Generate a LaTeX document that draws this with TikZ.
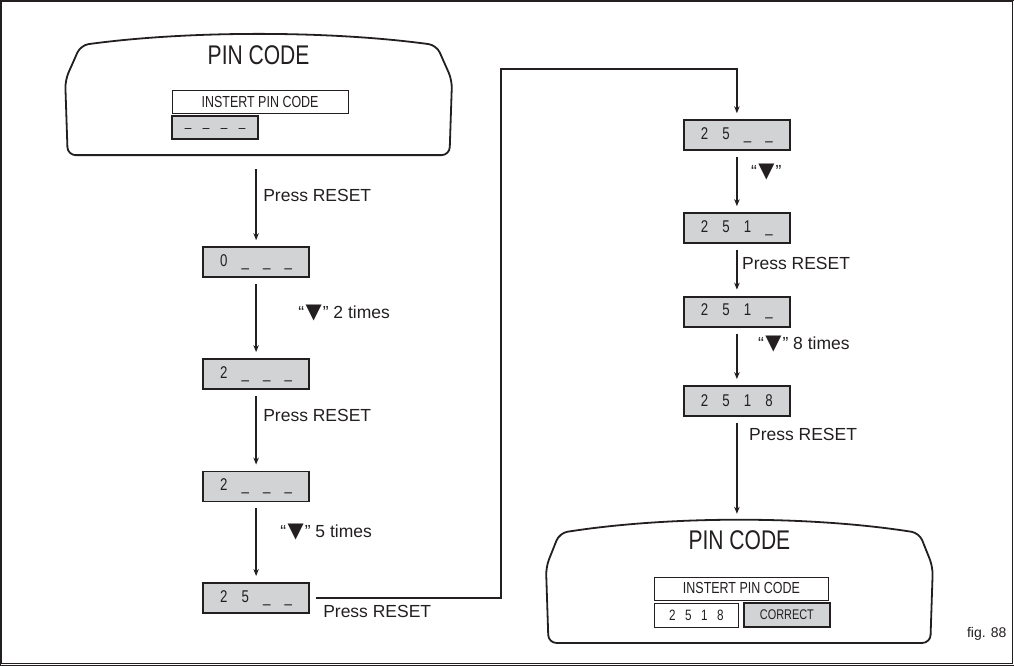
\documentclass[tikz,border=0pt]{standalone}
\usepackage{fontspec}
\setmainfont{Liberation Sans}
\newfontfamily\condf[FakeStretch=0.78]{Liberation Sans}
\newfontfamily\symf{DejaVu Sans}
\usetikzlibrary{arrows.meta}
\definecolor{boxgray}{RGB}{209,211,212}
\definecolor{ink}{RGB}{35,31,32}
\newcommand\chs[5]{\makebox[#1]{#2}\makebox[#1]{#3}\makebox[#1]{#4}\makebox[#1]{#5}}
\newcommand\tri{\kern1.5pt{\symf\fontsize{21}{22}\selectfont ▼}\kern1pt}
\begin{document}
\begin{tikzpicture}[x=1pt,y=-1pt,
  every path/.style={draw=ink},
  framebox/.style={line width=1.4pt},
  panelline/.style={line width=1.8pt, rounded corners=8pt},
  stepbox/.style={draw=ink, line width=1.9pt, fill=boxgray, minimum width=106pt, minimum height=30pt, inner sep=0pt,
     font=\condf\fontsize{17}{19}\selectfont, text=ink},
  insbox/.style={draw=ink, line width=0.9pt, fill=white, inner sep=0pt, text=ink},
  grayin/.style={draw=ink, line width=1.9pt, fill=boxgray, inner sep=0pt, text=ink},
  conn/.style={line width=1.5pt, -{Stealth[length=7pt,width=5.5pt]}, shorten >=6pt, shorten <=6pt},
  lab/.style={anchor=west, inner sep=0pt, text=ink, font=\fontsize{17.5}{20}\selectfont},
  ghost/.style={draw=none, inner sep=0pt}
]
\useasboundingbox (0,0) rectangle (1014,665);
\draw[framebox] (1,1.5) rectangle (1012.5,663.5);

% ---------- top panel ----------
\begin{scope}[shift={(258.5,34)}]
  \draw[panelline] (0,121) -- (-191,121) -- (-193.5,46) -- (-178,11)
     .. controls (-70,-3.7) and (70,-3.7) .. (178,11) -- (193.5,46) -- (191,121) -- cycle;
  \node[ghost, text=ink, font=\condf\fontsize{27}{30}\selectfont] (t1title) at (0,21) {PIN CODE};
  \node[insbox, minimum width=176pt, minimum height=23pt, font=\condf\fontsize{16}{18}\selectfont] (t1ins) at (1.5,67.5) {INSTERT PIN CODE};
  \node[grayin, minimum width=86pt, minimum height=23pt, font=\condf\fontsize{15}{17}\selectfont] (t1code) at (-43.5,93.5) {\chs{18pt}{\_}{\_}{\_}{\_}};
\end{scope}
\node[ghost, minimum width=387pt, minimum height=121pt] (P1) at (258.5,94.5) {};

% ---------- left column ----------
\node[stepbox] (B1) at (256,262) {\chs{21.5pt}{0}{\_}{\_}{\_}};
\node[stepbox] (B2) at (256,374) {\chs{21.5pt}{2}{\_}{\_}{\_}};
\node[stepbox] (B3) at (256,486.5) {\chs{21.5pt}{2}{\_}{\_}{\_}};
\node[stepbox] (B4) at (256,598) {\chs{21.5pt}{2}{5}{\_}{\_}};

\draw[conn, shorten <=14pt] (B1.north |- P1.south) -- (B1.north);
\draw[conn] (B1) -- (B2);
\draw[conn] (B2) -- (B3);
\draw[conn] (B3) -- (B4);

\node[lab] (l1) at (263,195) {Press RESET};
\node[lab] (l2) at (298,313) {“\tri” 2 times};
\node[lab] (l3) at (263,415) {Press RESET};
\node[lab] (l4) at (280,532) {“\tri” 5 times};
\node[lab] (l5) at (323,612) {Press RESET};

% ---------- right column ----------
\node[stepbox] (R1) at (737,135) {\chs{21.5pt}{2}{5}{\_}{\_}};
\node[stepbox] (R2) at (737,228) {\chs{21.5pt}{2}{5}{1}{\_}};
\node[stepbox] (R3) at (737,311.5) {\chs{21.5pt}{2}{5}{1}{\_}};
\node[stepbox] (R4) at (737,401) {\chs{21.5pt}{2}{5}{1}{8}};

\coordinate (c1) at (501,69);
\draw[conn] (B4.east) -| (c1) -| (R1.north);
\draw[conn] (R1) -- (R2);
\draw[conn] (R2) -- (R3);
\draw[conn] (R3) -- (R4);

\node[lab] (r1) at (751,172) {“\tri”};
\node[lab] (r2) at (742,263) {Press RESET};
\node[lab] (r3) at (758,344) {“\tri” 8 times};
\node[lab] (r4) at (749,434) {Press RESET};

% ---------- bottom panel ----------
\begin{scope}[shift={(739.5,520)}]
  \draw[panelline] (0,123) -- (-191,123) -- (-193.5,47) -- (-180,13)
     .. controls (-70,-4.3) and (70,-4.3) .. (180,13) -- (193.5,47) -- (191,123) -- cycle;
  \node[ghost, text=ink, font=\condf\fontsize{27}{30}\selectfont] (t2title) at (0,20.5) {PIN CODE};
  \node[insbox, minimum width=175pt, minimum height=23pt, font=\condf\fontsize{16}{18}\selectfont] (t2ins) at (2,68.5) {INSTERT PIN CODE};
  \node[insbox, minimum width=85pt, minimum height=24pt, font=\condf\fontsize{15}{17}\selectfont] (t2code) at (-43,95) {\chs{16pt}{2}{5}{1}{8}};
  \node[grayin, minimum width=86pt, minimum height=24pt, font=\condf\fontsize{14}{16}\selectfont] (t2ok) at (47.5,95) {CORRECT};
\end{scope}
\node[ghost, minimum width=387pt, minimum height=123pt] (P2) at (739.5,581.5) {};

\draw[conn] (R4.south) -- (R4.south |- P2.north);

\node[anchor=base west, inner sep=0pt, text=ink, font=\fontsize{14}{16}\selectfont] (fig) at (967,638) {fig. 88};
\end{tikzpicture}
\end{document}
